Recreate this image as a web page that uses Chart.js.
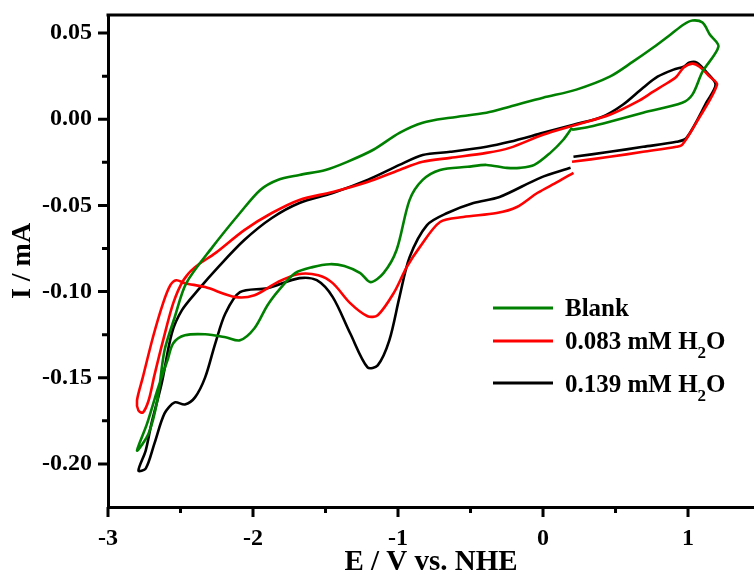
<!DOCTYPE html>
<html>
<head>
<meta charset="utf-8">
<script src="https://cdn.jsdelivr.net/npm/chart.js@4.4.1/dist/chart.umd.min.js"></script>
<style>
  html, body { margin: 0; padding: 0; background: #fff; }
  #wrap { width: 754px; height: 574px; }
</style>
</head>
<body>
<div id="wrap"><canvas id="cv-chart"></canvas></div>
<script>
const seriesLabels = ['Blank', '0.083 mM H₂O', '0.139 mM H₂O'];
const seriesColors = ['#008000', '#ff0000', '#000000'];
const xTicks = [-3, -2, -1, 0, 1];
const yTicks = [-0.20, -0.15, -0.10, -0.05, 0.00, 0.05];
const xMinor = [-2.5, -1.5, -0.5, 0.5];
const yMinor = [-0.175, -0.125, -0.075, -0.025, 0.025];

// potential (V vs NHE) and current (mA)
const blankE = [0.20,0.32,0.46,0.69,0.96,1.03,1.10,1.21,1.15,1.10,1.03,0.97,0.88,0.76,0.62,0.46,0.23,0.00,-0.23,-0.39,-0.64,-0.83,-0.99,-1.17,-1.35,-1.50,-1.68,-1.83,-1.95,-2.09,-2.28,-2.46,-2.54,-2.61,-2.66,-2.72,-2.80,-2.73,-2.66,-2.59,-2.55,-2.47,-2.33,-2.19,-2.09,-1.99,-1.90,-1.81,-1.71,-1.59,-1.47,-1.37,-1.26,-1.19,-1.10,-1.01,-0.92,-0.83,-0.71,-0.52,-0.39,-0.25,-0.16,-0.06,0.05,0.14,0.20];
const blankI = [-0.0061,-0.0044,-0.0015,0.0038,0.0096,0.0143,0.0276,0.0422,0.0492,0.0561,0.0573,0.0550,0.0492,0.0416,0.0334,0.0247,0.0172,0.0125,0.0073,0.0038,0.0009,-0.0020,-0.0079,-0.0177,-0.0247,-0.0294,-0.0323,-0.0352,-0.0410,-0.0544,-0.0742,-0.0951,-0.1149,-0.1341,-0.1632,-0.1824,-0.1923,-0.1765,-0.1573,-0.1399,-0.1300,-0.1254,-0.1248,-0.1265,-0.1283,-0.1213,-0.1079,-0.0980,-0.0893,-0.0858,-0.0841,-0.0852,-0.0893,-0.0945,-0.0893,-0.0759,-0.0468,-0.0352,-0.0294,-0.0276,-0.0265,-0.0282,-0.0282,-0.0265,-0.0195,-0.0119,-0.0049];

const w083E = [0.20,0.46,0.69,0.92,0.96,1.06,1.20,1.15,1.08,1.03,0.97,0.92,0.86,0.76,0.65,0.46,0.23,0.00,-0.23,-0.39,-0.64,-0.83,-0.99,-1.21,-1.45,-1.68,-1.87,-2.06,-2.26,-2.40,-2.48,-2.55,-2.62,-2.68,-2.72,-2.76,-2.79,-2.80,-2.76,-2.69,-2.62,-2.57,-2.53,-2.47,-2.33,-2.12,-1.99,-1.83,-1.69,-1.55,-1.45,-1.33,-1.21,-1.14,-1.03,-0.94,-0.85,-0.71,-0.55,-0.32,-0.18,-0.04,0.10,0.21];
const w083I = [-0.0247,-0.0218,-0.0189,-0.0160,-0.0148,-0.0015,0.0201,0.0247,0.0305,0.0323,0.0300,0.0247,0.0212,0.0160,0.0102,0.0026,-0.0032,-0.0090,-0.0166,-0.0195,-0.0224,-0.0247,-0.0294,-0.0364,-0.0422,-0.0468,-0.0544,-0.0643,-0.0777,-0.0858,-0.0934,-0.1067,-0.1283,-0.1486,-0.1632,-0.1702,-0.1690,-0.1632,-0.1498,-0.1265,-0.1067,-0.0963,-0.0934,-0.0951,-0.0974,-0.1032,-0.1021,-0.0945,-0.0899,-0.0905,-0.0951,-0.1067,-0.1143,-0.1137,-0.1009,-0.0858,-0.0742,-0.0596,-0.0567,-0.0544,-0.0509,-0.0428,-0.0364,-0.0311];

const w139E = [0.21,0.46,0.69,0.92,0.99,1.13,1.19,1.13,1.06,1.01,0.97,0.90,0.79,0.69,0.55,0.41,0.21,0.00,-0.23,-0.39,-0.64,-0.83,-0.99,-1.21,-1.45,-1.68,-1.87,-2.06,-2.24,-2.38,-2.49,-2.56,-2.63,-2.70,-2.74,-2.79,-2.74,-2.68,-2.61,-2.54,-2.47,-2.40,-2.33,-2.26,-2.19,-2.09,-1.90,-1.68,-1.56,-1.45,-1.33,-1.21,-1.14,-1.06,-0.99,-0.92,-0.80,-0.66,-0.48,-0.30,-0.02,0.19];
const w139I = [-0.0218,-0.0189,-0.0160,-0.0131,-0.0108,0.0102,0.0201,0.0271,0.0329,0.0329,0.0305,0.0288,0.0247,0.0183,0.0084,0.0015,-0.0032,-0.0079,-0.0131,-0.0160,-0.0189,-0.0207,-0.0265,-0.0352,-0.0428,-0.0486,-0.0573,-0.0701,-0.0858,-0.0992,-0.1108,-0.1242,-0.1533,-0.1765,-0.1923,-0.2039,-0.2027,-0.1882,-0.1707,-0.1643,-0.1655,-0.1614,-0.1498,-0.1300,-0.1126,-0.1003,-0.0980,-0.0922,-0.0934,-0.1032,-0.1242,-0.1440,-0.1428,-0.1283,-0.1032,-0.0800,-0.0614,-0.0544,-0.0486,-0.0451,-0.0340,-0.0282];

const FONT = "'Liberation Serif', 'Times New Roman', serif";
const pts = (xs, ys) => xs.map((v, i) => ({x: v, y: ys[i]}));
const series = [pts(blankE, blankI), pts(w083E, w083I), pts(w139E, w139I)];

// top frame line plus major / minor tick marks
const frameTicks = {
  id: 'frameTicks',
  afterDraw(chart) {
    const {ctx, chartArea: a, scales: {x, y}} = chart;
    ctx.save();
    ctx.strokeStyle = '#000';
    ctx.lineWidth = 3;
    ctx.beginPath();
    ctx.moveTo(a.left - 1.5, a.top);
    ctx.lineTo(a.right, a.top);
    xTicks.forEach(v => { const p = x.getPixelForValue(v); ctx.moveTo(p, a.bottom); ctx.lineTo(p, a.bottom + 10); });
    xMinor.forEach(v => { const p = x.getPixelForValue(v); ctx.moveTo(p, a.bottom); ctx.lineTo(p, a.bottom + 6); });
    yTicks.forEach(v => { const p = y.getPixelForValue(v); ctx.moveTo(a.left, p); ctx.lineTo(a.left - 10, p); });
    yMinor.forEach(v => { const p = y.getPixelForValue(v); ctx.moveTo(a.left, p); ctx.lineTo(a.left - 6, p); });
    ctx.stroke();
    ctx.restore();
  }
};

// legend inside the plot, with subscript 2
const insideLegend = {
  id: 'insideLegend',
  afterDraw(chart) {
    const {ctx} = chart;
    const rows = [308, 341, 383];
    const bases = [316, 349, 392];
    ctx.save();
    seriesLabels.forEach((lab, i) => {
      ctx.strokeStyle = seriesColors[i];
      ctx.lineWidth = 3;
      ctx.beginPath();
      ctx.moveTo(493, rows[i]);
      ctx.lineTo(553, rows[i]);
      ctx.stroke();
      ctx.fillStyle = '#000';
      ctx.textBaseline = 'alphabetic';
      let xx = 565;
      const parts = lab.split('₂');
      parts.forEach((p, k) => {
        ctx.font = 'bold 25px ' + FONT;
        ctx.fillText(p, xx, bases[i]);
        xx += ctx.measureText(p).width;
        if (k < parts.length - 1) {
          ctx.font = 'bold 17px ' + FONT;
          ctx.fillText('2', xx, bases[i] + 9);
          xx += ctx.measureText('2').width;
        }
      });
    });
    ctx.restore();
  }
};

const ctx = document.getElementById('cv-chart').getContext('2d');
const myChart = new Chart(ctx, {
  type: 'scatter',
  data: {
    datasets: series.map((d, i) => ({
      label: seriesLabels[i],
      data: d,
      showLine: true,
      borderColor: seriesColors[i],
      backgroundColor: seriesColors[i],
      borderWidth: 2.6,
      pointRadius: 0,
      tension: 0.3
    }))
  },
  options: {
    responsive: true,
    maintainAspectRatio: false,
    animation: false,
    layout: { padding: { top: 15, right: 0, left: 0, bottom: 0 } },
    plugins: {
      legend: { display: false },
      tooltip: { enabled: false }
    },
    scales: {
      x: {
        type: 'linear',
        min: -3,
        max: 1.455,
        grid: { display: false, drawTicks: false },
        border: { display: true, color: '#000', width: 3 },
        afterBuildTicks: s => { s.ticks = xTicks.map(v => ({value: v})); },
        afterFit: s => { s.height = 67; s.paddingLeft = 0; s.paddingRight = 0; },
        ticks: {
          color: '#000',
          padding: 17,
          maxRotation: 0,
          font: { family: FONT, size: 24, weight: 'bold' },
          callback: v => String(v)
        },
        title: {
          display: true,
          text: 'E / V vs. NHE',
          color: '#000',
          padding: 0,
          font: { family: FONT, size: 29, weight: 'bold', lineHeight: 0.8 }
        }
      },
      y: {
        type: 'linear',
        min: -0.225,
        max: 0.0605,
        grid: { display: false, drawTicks: false },
        border: { display: true, color: '#000', width: 3 },
        afterBuildTicks: s => { s.ticks = yTicks.map(v => ({value: v})); },
        afterFit: s => { s.width = 108; s.paddingTop = 0; s.paddingBottom = 0; },
        ticks: {
          color: '#000',
          padding: 16,
          font: { family: FONT, size: 24, weight: 'bold' },
          callback: v => Number(v).toFixed(2)
        },
        title: {
          display: true,
          text: 'I / mA',
          color: '#000',
          padding: { top: 9, bottom: 0 },
          font: { family: FONT, size: 28, weight: 'bold', lineHeight: 1 }
        }
      }
    }
  },
  plugins: [frameTicks, insideLegend]
});
</script>
</body>
</html>
